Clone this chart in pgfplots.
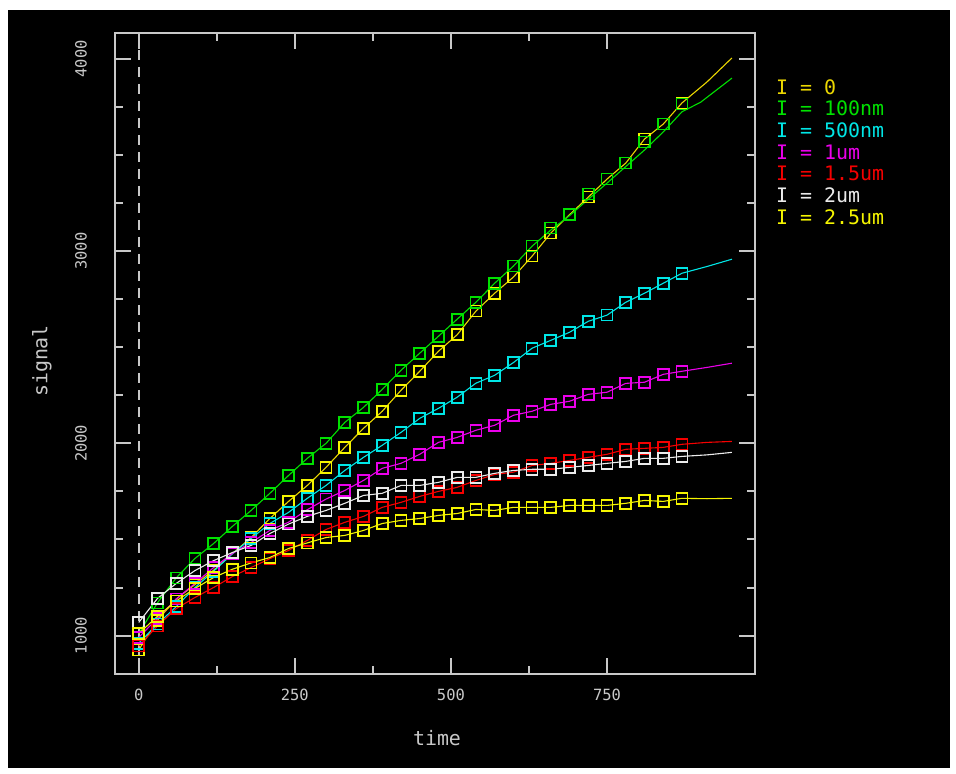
\documentclass[border=0pt]{standalone}
\usepackage{fontspec}
\setmainfont{DejaVu Sans Mono}
\usepackage{pgfplots}
\usepackage{pgfplotstable}
\pgfplotsset{compat=1.18}
\definecolor{fg}{RGB}{200,200,200}
\definecolor{cYa}{RGB}{235,215,0}
\definecolor{cG}{RGB}{0,225,0}
\definecolor{cC}{RGB}{0,230,230}
\definecolor{cM}{RGB}{235,0,235}
\definecolor{cR}{RGB}{245,0,0}
\definecolor{cW}{RGB}{235,235,235}
\definecolor{cYb}{RGB}{245,245,0}

\pgfplotstableread{
x y
0 925
30 1080
60 1190
90 1265
120 1340
150 1427
180 1510
210 1609
240 1698
270 1781
300 1875
330 1979
360 2078
390 2167
420 2276
450 2375
480 2479
510 2565
540 2688
570 2781
600 2865
630 2974
660 3094
690 3190
720 3281
750 3375
780 3458
810 3583
840 3661
870 3771
910 3880
950 4005
}\dataIzero

\pgfplotstableread{
x y
0 1010
30 1170
60 1300
90 1401
120 1479
150 1568
180 1651
210 1740
240 1833
270 1922
300 2000
330 2109
360 2187
390 2281
420 2380
450 2469
480 2557
510 2646
540 2734
570 2833
600 2922
630 3026
660 3120
690 3191
720 3297
750 3375
780 3458
810 3568
840 3661
870 3765
}\dataGmk

\pgfplotstableread{
x y
0 1010
30 1170
60 1300
90 1401
120 1479
150 1568
180 1651
210 1740
240 1833
270 1922
300 2000
330 2109
360 2187
390 2281
420 2380
450 2469
480 2557
510 2646
540 2734
570 2833
600 2922
630 3026
660 3110
690 3185
720 3270
750 3354
780 3440
810 3526
840 3620
870 3725
900 3775
930 3850
950 3900
}\dataGln

\pgfplotstableread{
x y
0 960
30 1060
60 1150
90 1250
120 1335
150 1425
180 1505
210 1583
240 1641
270 1714
300 1781
330 1859
360 1927
390 1990
420 2057
450 2130
480 2182
510 2240
540 2313
570 2354
600 2420
630 2495
660 2536
690 2578
720 2635
750 2667
780 2734
810 2781
840 2833
870 2885
910 2920
950 2958
}\dataC

\pgfplotstableread{
x y
0 990
30 1090
60 1190
90 1271
120 1354
150 1427
180 1484
210 1547
240 1590
270 1655
300 1710
330 1755
360 1807
390 1870
420 1896
450 1943
480 2005
510 2031
540 2068
570 2094
600 2146
630 2167
660 2203
690 2219
720 2255
750 2266
780 2312
810 2318
840 2359
870 2375
910 2395
950 2417
}\dataM

\pgfplotstableread{
x y
0 945
30 1050
60 1140
90 1198
120 1250
150 1307
180 1354
210 1400
240 1443
270 1495
300 1552
330 1589
360 1620
390 1667
420 1693
450 1724
480 1750
510 1771
540 1807
570 1838
600 1850
630 1885
660 1896
690 1911
720 1927
750 1943
780 1969
810 1974
840 1979
870 1995
910 2005
950 2010
}\dataR

\pgfplotstableread{
x y
0 1068
30 1193
60 1271
90 1338
120 1390
150 1432
180 1469
210 1531
240 1580
270 1620
300 1651
330 1688
360 1729
390 1740
420 1781
450 1781
480 1797
510 1823
540 1823
570 1844
600 1859
630 1865
660 1865
690 1875
720 1885
750 1896
780 1906
810 1922
840 1922
870 1932
910 1940
950 1953
}\dataW

\pgfplotstableread{
x y
0 1010
30 1100
60 1180
90 1245
120 1302
150 1345
180 1378
210 1406
240 1453
270 1482
300 1510
330 1521
360 1547
390 1583
420 1599
450 1609
480 1625
510 1635
540 1656
570 1651
600 1667
630 1667
660 1667
690 1677
720 1677
750 1677
780 1688
810 1703
840 1698
870 1714
910 1712
950 1714
}\dataYb

\begin{document}
\begin{tikzpicture}[x=1bp,y=1bp]
\path[use as bounding box, fill=white] (0,0) rectangle (956,774);
\fill[black] (8,6) rectangle (950,764);
\begin{axis}[
  at={(115bp,100bp)}, anchor=south west,
  scale only axis, width=640bp, height=641bp,
  xmin=-38, xmax=987, ymin=800, ymax=4135,
  axis line style={fg, line width=2bp},
  tick style={fg, line width=2bp},
  major tick length=16bp, minor tick length=8bp,
  tick align=inside,
  xtick={0,250,500,750}, ytick={1000,2000,3000,4000},
  minor x tick num=1, minor y tick num=3,
  /pgf/number format/assume math mode=true,
  /pgf/number format/1000 sep={},
  ticklabel style={font=\fontsize{15.5}{16}\selectfont, text=fg},
  xticklabel style={anchor=center, yshift=-21bp},
  yticklabel style={xshift=-34bp, rotate=90, anchor=center},
  clip=true,
]
\addplot[fg, line width=2bp, dash pattern=on 10bp off 7bp] coordinates {(0,4135) (0,800)};
% I = 0
\addplot[cYa, line width=1.1bp] table {\dataIzero};
\addplot[cYb, only marks, mark=square, mark size=5.5bp, mark options={line width=1.7bp}, restrict x to domain=0:880] table {\dataIzero};
% I = 100nm
\addplot[cG, line width=1.1bp] table {\dataGln};
\addplot[cG, only marks, mark=square, mark size=5.5bp, mark options={line width=1.7bp}] table {\dataGmk};
% I = 500nm
\addplot[cC, line width=1.1bp] table {\dataC};
\addplot[cC, only marks, mark=square, mark size=5.5bp, mark options={line width=1.7bp}, restrict x to domain=0:880] table {\dataC};
% I = 1um
\addplot[cM, line width=1.1bp] table {\dataM};
\addplot[cM, only marks, mark=square, mark size=5.5bp, mark options={line width=1.7bp}, restrict x to domain=0:880] table {\dataM};
% I = 1.5um
\addplot[cR, line width=1.1bp] table {\dataR};
\addplot[cR, only marks, mark=square, mark size=5.5bp, mark options={line width=1.7bp}, restrict x to domain=0:880] table {\dataR};
% I = 2um
\addplot[cW, line width=1.1bp] table {\dataW};
\addplot[cW, only marks, mark=square, mark size=5.5bp, mark options={line width=1.7bp}, restrict x to domain=0:880] table {\dataW};
% I = 2.5um
\addplot[cYb, line width=1.1bp] table {\dataYb};
\addplot[cYb, only marks, mark=square, mark size=5.5bp, mark options={line width=1.7bp}, restrict x to domain=0:880] table {\dataYb};
\end{axis}
\node[text=fg, font=\fontsize{20}{22}\selectfont, rotate=90] at (42,413) {signal};
\node[text=fg, font=\fontsize{20}{22}\selectfont] at (437,36) {time};
\begin{scope}[font=\fontsize{20}{22}\selectfont]
\node[anchor=west, text=cYa, inner sep=0pt] at (776,687) {I = 0};
\node[anchor=west, text=cG, inner sep=0pt] at (776,665.3) {I = 100nm};
\node[anchor=west, text=cC, inner sep=0pt] at (776,643.6) {I = 500nm};
\node[anchor=west, text=cM, inner sep=0pt] at (776,622) {I = 1um};
\node[anchor=west, text=cR, inner sep=0pt] at (776,600.3) {I = 1.5um};
\node[anchor=west, text=cW, inner sep=0pt] at (776,578.6) {I = 2um};
\node[anchor=west, text=cYb, inner sep=0pt] at (776,557) {I = 2.5um};
\end{scope}
\end{tikzpicture}
\end{document}
